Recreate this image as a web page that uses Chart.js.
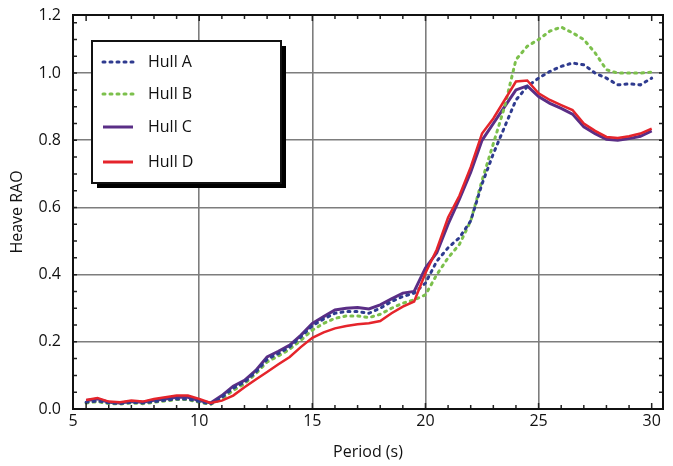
<!DOCTYPE html>
<html>
<head>
<meta charset="utf-8">
<script src="https://cdn.jsdelivr.net/npm/chart.js@4"></script>
<style>
  html,body{margin:0;padding:0;background:#fff;}
  #wrap{width:673px;height:466px;position:relative;}
</style>
</head>
<body>
<div id="wrap"><canvas id="c" width="673" height="466"></canvas></div>
<script>
// ---- data ----
const period = [5,5.5,6,6.5,7,7.5,8,8.5,9,9.5,10,10.5,11,11.5,12,12.5,13,13.5,14,14.5,15,15.5,16,16.5,17,17.5,18,18.5,19,19.5,20,20.5,21,21.5,22,22.5,23,23.5,24,24.5,25,25.5,26,26.5,27,27.5,28,28.5,29,29.5,30];
const hullA = [0.02,0.024,0.018,0.016,0.02,0.018,0.022,0.026,0.03,0.03,0.022,0.015,0.035,0.062,0.08,0.11,0.148,0.165,0.185,0.215,0.248,0.268,0.285,0.29,0.29,0.285,0.3,0.32,0.335,0.345,0.375,0.44,0.48,0.51,0.56,0.67,0.76,0.84,0.92,0.96,0.985,1.005,1.02,1.03,1.025,1.0,0.985,0.965,0.968,0.965,0.985];
const hullB = [0.018,0.022,0.016,0.015,0.018,0.016,0.02,0.024,0.028,0.028,0.02,0.014,0.03,0.055,0.075,0.105,0.14,0.158,0.178,0.205,0.235,0.255,0.27,0.277,0.277,0.272,0.282,0.3,0.315,0.325,0.34,0.4,0.45,0.49,0.56,0.68,0.79,0.9,1.04,1.08,1.1,1.125,1.137,1.12,1.1,1.06,1.01,1.0,1.0,1.0,1.003];
const hullC = [0.025,0.03,0.02,0.018,0.022,0.02,0.026,0.03,0.035,0.035,0.025,0.018,0.04,0.068,0.085,0.115,0.155,0.172,0.19,0.22,0.255,0.275,0.295,0.3,0.302,0.298,0.31,0.328,0.345,0.35,0.42,0.465,0.55,0.625,0.705,0.8,0.85,0.9,0.95,0.962,0.93,0.91,0.895,0.878,0.84,0.82,0.803,0.8,0.805,0.812,0.828];
const hullD = [0.027,0.033,0.022,0.02,0.025,0.022,0.03,0.035,0.04,0.04,0.03,0.018,0.025,0.04,0.065,0.088,0.11,0.133,0.155,0.185,0.212,0.228,0.24,0.247,0.252,0.255,0.262,0.285,0.305,0.32,0.405,0.475,0.57,0.635,0.72,0.82,0.865,0.92,0.975,0.978,0.94,0.92,0.905,0.89,0.85,0.828,0.81,0.807,0.812,0.82,0.835];
const seriesNames = ['Hull A','Hull B','Hull C','Hull D'];
const xTickValues = [10,15,20,25,30];
const xTickLabels = ['5','10','15','20','25','30'];
const yTickValues = [0,0.2,0.4,0.6,0.8,1.0];
const yTickLabels = ['0.0','0.2','0.4','0.6','0.8','1.0','1.2'];
const xMin = 4.42, xMax = 30.5, yMin = 0, yMax = 1.173;

const colors = ['#2f3b8f','#7cc04c','#5a2e86','#e5242b'];
const FONT = '"Open Sans", "Noto Sans", sans-serif';

function pts(ys){ return period.map((x,i)=>({x:x,y:ys[i]})); }

const datasets = [
  {label:seriesNames[0], data:pts(hullA), borderColor:colors[0], borderWidth:3, borderDash:[2,5], borderCapStyle:'round', order:1},
  {label:seriesNames[1], data:pts(hullB), borderColor:colors[1], borderWidth:3, borderDash:[2,5], borderCapStyle:'round', order:2},
  {label:seriesNames[2], data:pts(hullC), borderColor:colors[2], borderWidth:3, order:3},
  {label:seriesNames[3], data:pts(hullD), borderColor:colors[3], borderWidth:2.5, order:0}
];

const framePlugin = {
  id:'frame',
  afterDatasetsDraw(chart){
    const ctx = chart.ctx, a = chart.chartArea;
    const xs = chart.scales.x, ys = chart.scales.y;
    ctx.save();
    // minor ticks
    ctx.strokeStyle = '#222'; ctx.lineWidth = 1.5;
    ctx.beginPath();
    for(let v=5; v<=30.01; v+=1){
      const px = xs.getPixelForValue(v);
      const len = (v%5===0)?6:4;
      ctx.moveTo(px,a.bottom); ctx.lineTo(px,a.bottom-len);
      ctx.moveTo(px,a.top); ctx.lineTo(px,a.top+len);
    }
    for(let v=0.05; v<1.17; v+=0.05){
      const py = ys.getPixelForValue(v);
      ctx.moveTo(a.left,py); ctx.lineTo(a.left+4,py);
      ctx.moveTo(a.right,py); ctx.lineTo(a.right-4,py);
    }
    ctx.stroke();
    // frame
    ctx.strokeStyle = '#111'; ctx.lineWidth = 2;
    ctx.strokeRect(a.left, a.top, a.right-a.left, a.bottom-a.top);
    // legend
    const lx = a.left+19, ly = a.top+26, lw = 189, lh = 142;
    ctx.fillStyle = '#000';
    ctx.fillRect(lx+5, ly+5, lw, lh);
    ctx.fillStyle = '#fff';
    ctx.fillRect(lx, ly, lw, lh);
    ctx.strokeStyle = '#111'; ctx.lineWidth = 2;
    ctx.strokeRect(lx, ly, lw, lh);
    const rows = [21,53,86,121];
    chart.data.datasets.forEach((ds,i)=>{
      const y = ly + rows[i];
      ctx.beginPath();
      ctx.strokeStyle = ds.borderColor;
      ctx.lineWidth = 3;
      ctx.lineCap = ds.borderDash ? 'round':'butt';
      ctx.setLineDash(ds.borderDash || []);
      ctx.moveTo(lx+11, y); ctx.lineTo(lx+41, y);
      ctx.stroke();
      ctx.setLineDash([]);
      ctx.fillStyle = '#111';
      ctx.font = '16px ' + FONT;
      ctx.textBaseline = 'middle';
      ctx.textAlign = 'left';
      ctx.fillText(ds.label, lx+56, y);
    });
    ctx.restore();
  }
};

new Chart(document.getElementById('c'), {
  type:'line',
  data:{datasets:datasets},
  options:{
    responsive:false,
    animation:false,
    parsing:true,
    layout:{padding:{top:15,right:10,left:0,bottom:0}},
    elements:{point:{radius:0}, line:{tension:0, fill:false}},
    plugins:{legend:{display:false}, tooltip:{enabled:false}},
    scales:{
      x:{
        type:'linear', min:xMin, max:xMax,
        afterBuildTicks(s){ s.ticks = [xMin].concat(xTickValues).map(v=>({value:v})); },
        afterFit(s){ s.height = 57; s.paddingLeft = 0; s.paddingRight = 0; },
        ticks:{ callback:(v,i)=>xTickLabels[i], color:'#111', font:{family:FONT,size:16}, padding:3, maxRotation:0, autoSkip:false },
        grid:{ color:(c)=> (c.tick && (c.tick.value===xMin || c.tick.value===30)) ? 'rgba(0,0,0,0)' : '#7d7d7d', lineWidth:1.6, drawTicks:false },
        border:{display:false},
        title:{display:true, text:'Period (s)', color:'#111', font:{family:FONT,size:16}, padding:{top:0}}
      },
      y:{
        type:'linear', min:yMin, max:yMax,
        afterBuildTicks(s){ s.ticks = yTickValues.concat([yMax]).map(v=>({value:v})); },
        afterFit(s){ s.width = 73; s.paddingTop = 0; s.paddingBottom = 0; },
        ticks:{ callback:(v,i)=>yTickLabels[i], color:'#111', font:{family:FONT,size:16}, padding:12, autoSkip:false },
        grid:{ color:(c)=> (c.tick && (c.tick.value===0 || c.tick.value===yMax)) ? 'rgba(0,0,0,0)' : '#7d7d7d', lineWidth:1.6, drawTicks:false },
        border:{display:false},
        title:{display:true, text:'Heave RAO', color:'#111', font:{family:FONT,size:16}, padding:{top:8,bottom:0}}
      }
    }
  },
  plugins:[framePlugin]
});
</script>
</body>
</html>
